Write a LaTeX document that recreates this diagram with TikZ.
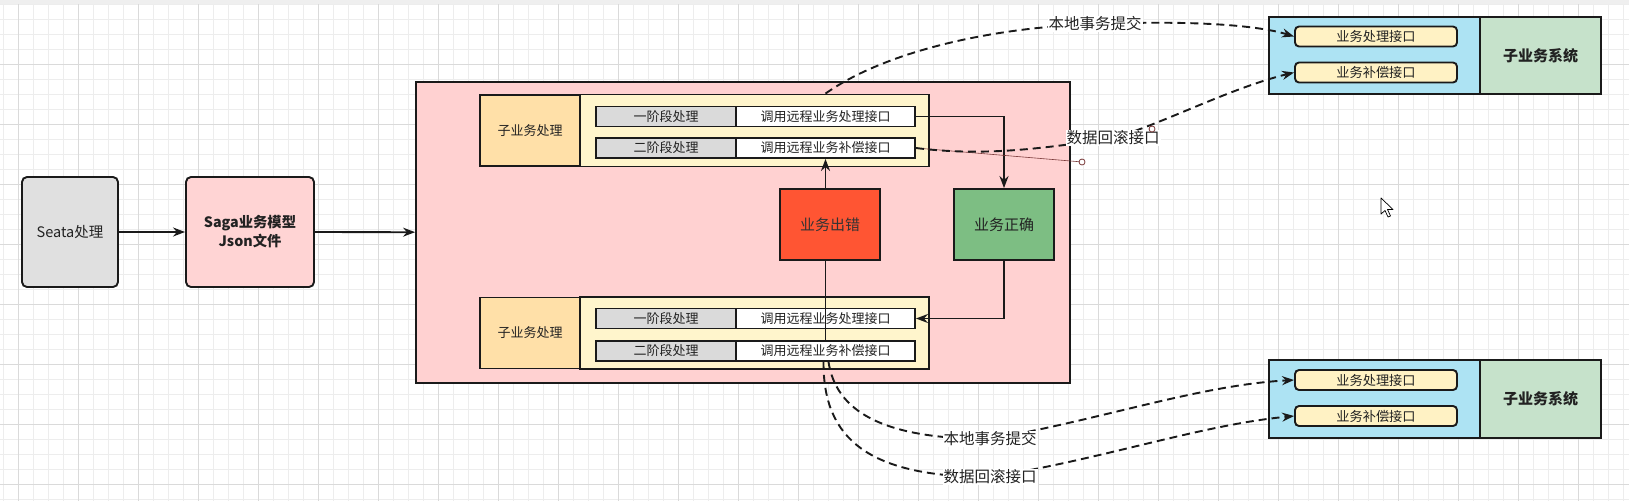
\documentclass[tikz,border=0pt]{standalone}
\usepackage{fontspec}
\setmainfont{Noto Sans CJK SC}
\usetikzlibrary{arrows.meta,calc}
\definecolor{cSeata}{HTML}{E0E0E0}
\definecolor{cPink}{HTML}{FFD4D4}
\definecolor{cPinkBig}{HTML}{FFD1D1}
\definecolor{cOrange}{HTML}{FFE0A8}
\definecolor{cYellow}{HTML}{FFF5CC}
\definecolor{cGray}{HTML}{DADADA}
\definecolor{cRed}{HTML}{FF5533}
\definecolor{cGreen}{HTML}{7DBE83}
\definecolor{cCyan}{HTML}{ADE3F3}
\definecolor{cMint}{HTML}{C6E2CB}
\definecolor{cPill}{HTML}{FFF2C4}
\definecolor{lc}{HTML}{1A1A1A}
\definecolor{tc}{HTML}{222222}
\definecolor{tr}{HTML}{333333}
\definecolor{cBrown}{HTML}{7A3A3A}
\definecolor{gMinor}{HTML}{EDEDED}
\definecolor{gMajor}{HTML}{DADADA}
\definecolor{cStrip}{HTML}{EFEFEF}
\tikzset{
  box/.style={draw=lc, line width=1.9pt, inner sep=0pt, align=center, text=tc},
  cell/.style={box, minimum height=20pt, font=\fontsize{13}{14}\selectfont},
  pill/.style={box, fill=cPill, rounded corners=4pt, minimum width=162pt, minimum height=20pt, font=\fontsize{13.2}{14}\selectfont},
  lbl/.style={fill=white, inner sep=1pt, text=tc, font=\fontsize{15.5}{17}\selectfont},
  conn/.style={draw=lc, line width=1.8pt, -{Stealth[length=12pt,width=9pt]}},
  plainline/.style={draw=lc, line width=1.8pt},
  dconn/.style={draw=lc, line width=1.9pt, dash pattern=on 8pt off 5pt, -{Stealth[length=12pt,width=9pt]}},
  gminor/.style={draw=gMinor, line width=0.8pt},
  gmajor/.style={draw=gMajor, line width=1pt},
}
\begin{document}
\begin{tikzpicture}[x=1pt,y=-1pt]
\useasboundingbox (0,0) rectangle (1629,501);
\fill[white] (0,0) rectangle (1629,501);
% grid
\foreach \i in {0,...,108} \draw[gminor] ({3.3+15*\i},4) -- ({3.3+15*\i},501);
\foreach \j in {0,...,33} \draw[gminor] (0,{4+15*\j}) -- (1629,{4+15*\j});
\foreach \i in {0,...,27} \draw[gmajor] ({18.3+60*\i},4) -- ({18.3+60*\i},501);
\foreach \j in {1,...,8} \draw[gmajor] (0,{4+60*\j}) -- (1629,{4+60*\j});
\fill[cStrip] (0,0) rectangle (1629,4);

% left boxes
\node[box, fill=cSeata, rounded corners=5pt, minimum width=96pt, minimum height=110pt, font=\fontsize{14.5}{17}\selectfont] (seata) at (70,232) {Seata处理};
\node[box, fill=cPink, rounded corners=5pt, minimum width=128pt, minimum height=110pt, font=\bfseries\fontsize{14.3}{19}\selectfont] (saga) at (250,232) {Saga业务模型\\Json文件};

% big container
\node[box, fill=cPinkBig, minimum width=654pt, minimum height=301pt] (big) at (743,232.5) {};

% top group
\node[box, fill=cOrange, minimum width=100pt, minimum height=71pt, font=\fontsize{13}{14}\selectfont] (subT) at (530,130.5) {子业务处理};
\node[box, fill=cYellow, minimum width=349pt, minimum height=72pt] (grpT) at (754.5,130.5) {};
\node[cell, fill=cGray, minimum width=140pt] (t1a) at (666,116.5) {一阶段处理};
\node[cell, fill=white, minimum width=179pt] (t1b) at (825.5,116.5) {调用远程业务处理接口};
\node[cell, fill=cGray, minimum width=140pt] (t2a) at (666,148) {二阶段处理};
\node[cell, fill=white, minimum width=179pt] (t2b) at (825.5,148) {调用远程业务补偿接口};

% bottom group
\node[box, fill=cOrange, minimum width=100pt, minimum height=71pt, font=\fontsize{13}{14}\selectfont] (subB) at (530,333) {子业务处理};
\node[box, fill=cYellow, minimum width=349pt, minimum height=72pt] (grpB) at (754.5,333) {};
\node[cell, fill=cGray, minimum width=140pt] (b1a) at (666,318.5) {一阶段处理};
\node[cell, fill=white, minimum width=179pt] (b1b) at (825.5,318.5) {调用远程业务处理接口};
\node[cell, fill=cGray, minimum width=140pt] (b2a) at (666,351) {二阶段处理};
\node[cell, fill=white, minimum width=179pt] (b2b) at (825.5,351) {调用远程业务补偿接口};

% decision boxes
\node[box, fill=cRed, minimum width=100pt, minimum height=71pt, font=\fontsize{15}{16}\selectfont, text=tr] (red) at (830,224.5) {业务出错};
\node[box, fill=cGreen, minimum width=100pt, minimum height=71pt, font=\fontsize{15}{16}\selectfont] (green) at (1004,224.5) {业务正确};

% right systems
\node[box, fill=cCyan, minimum width=211pt, minimum height=77pt] (sysTL) at (1374.5,55.5) {};
\node[box, fill=cMint, minimum width=121pt, minimum height=77pt, font=\bfseries\fontsize{15}{16}\selectfont] (sysTR) at (1540.5,55.5) {子业务系统};
\node[pill] (pT1) at (1376,36.5) {业务处理接口};
\node[pill] (pT2) at (1376,72.5) {业务补偿接口};
\node[box, fill=cCyan, minimum width=211pt, minimum height=78pt] (sysBL) at (1374.5,399) {};
\node[box, fill=cMint, minimum width=121pt, minimum height=78pt, font=\bfseries\fontsize{15}{16}\selectfont] (sysBR) at (1540.5,399) {子业务系统};
\node[pill] (pB1) at (1376,380) {业务处理接口};
\node[pill] (pB2) at (1376,416) {业务补偿接口};

% solid connectors
\draw[conn] (seata) -- (saga);
\draw[conn] (saga) -- (big);
\draw[conn] (t1b.east) -| (green.north);
\draw[conn] (green.south) |- (b1b.east);
\draw[conn] (red.north -| t2b) -- (t2b.south);
\draw[plainline] (red.south -| b2b) -- (b2b.north);

% label anchor points
\coordinate (lc1) at (1095,24);
\coordinate (lr1) at (1113,138);
\coordinate (lcb) at (990,439);
\coordinate (lrb) at (990,477);

% thin selection artifact
\draw[cBrown, line width=0.6pt] (t2b.east) -- (1079,161.7);

% dashed connectors
\draw[dconn] (grpT.north -| t1b) .. controls (880,55) and (980,28) .. (lc1) .. controls (1200,20) and (1260,26) .. (pT1.west);
\draw[dconn] (t2b.east) .. controls (980,156) and (1035,150) .. (lr1) .. controls (1160,125) and (1230,88) .. (pT2.west);
\draw[dconn] ([xshift=3pt]b2b.south) .. controls (836,410) and (880,439) .. (lcb) .. controls (1100,420) and (1200,385) .. (pB1.west);
\draw[dconn] ([xshift=-2pt]b2b.south) .. controls (823,440) and (870,477) .. (lrb) .. controls (1100,460) and (1200,425) .. (pB2.west);

% labels
\node[lbl] (labC1) at (lc1) {本地事务提交};
\node[lbl] (labR1) at (lr1) {数据回滚接口};
\node[lbl] (labCB) at (lcb) {本地事务提交};
\node[lbl] (labRB) at (lrb) {数据回滚接口};

\draw[cBrown, fill=white, line width=0.8pt] (1082,162) circle (3pt);
\draw[cBrown, fill=white, line width=0.8pt] (1152,129) circle (3pt);

% mouse cursor
\draw[black, fill=white, line width=0.7pt, line join=round] (1381,198) -- (1381,214) -- (1385,210.5) -- (1388,217) -- (1390.5,216) -- (1387.5,209.5) -- (1393,209.5) -- cycle;
\end{tikzpicture}
\end{document}
